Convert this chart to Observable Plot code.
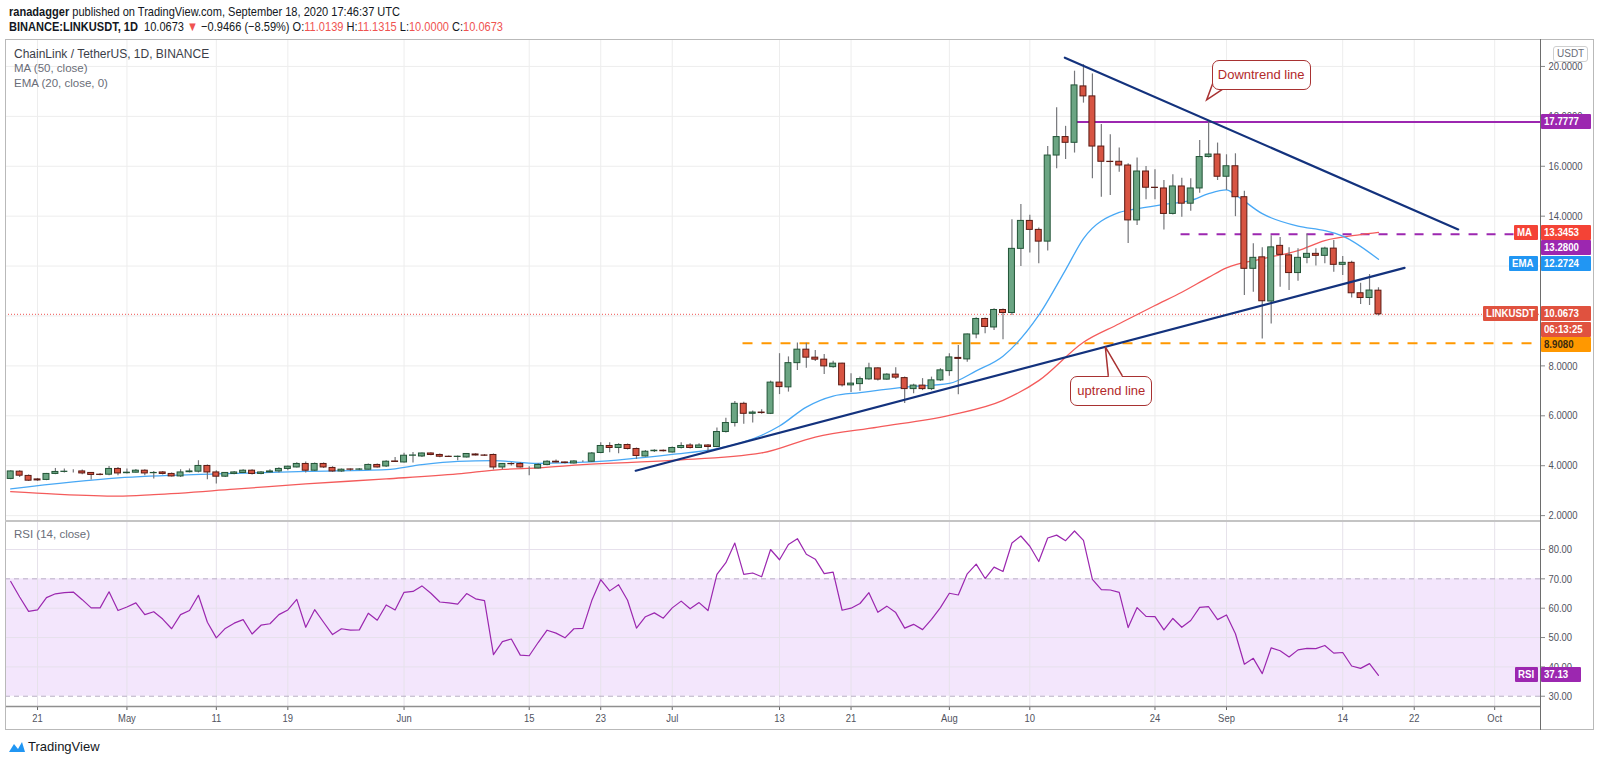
<!DOCTYPE html>
<html><head><meta charset="utf-8">
<script src="https://cdn.jsdelivr.net/npm/d3@7"></script>
<script src="https://cdn.jsdelivr.net/npm/@observablehq/plot@0.6"></script>
<style>
body{margin:0;background:#fff;}
#root{position:relative;width:1600px;height:763px;overflow:hidden;font-family:"Liberation Sans",Arial,sans-serif;color:#131722;}
.abs{position:absolute;white-space:nowrap;}
.narrow{transform:scaleX(0.85);transform-origin:0 50%;}
.tag{position:absolute;height:15px;line-height:15px;font-size:11.5px;font-weight:bold;color:#fff;padding:0 0 0 3px;box-sizing:border-box;border-radius:1px;white-space:nowrap;}
.tag span{display:inline-block;transform:scaleX(0.84);transform-origin:0 50%;}
.callout{position:absolute;background:#fff;border:1.5px solid #a83232;border-radius:7px;color:#b22a2a;font-size:13px;text-align:center;box-sizing:border-box;white-space:nowrap;}
</style></head><body><div id="root"></div>
<script>
// ---------- data ----------
const firstDay = "2020-04-18", lastDay = "2020-09-18";
const openP = [3.47,3.76,3.59,3.45,3.43,3.67,3.75,3.76,3.77,3.71,3.64,3.64,3.87,
 3.70,3.72,3.80,3.70,3.73,3.67,3.57,3.74,3.76,3.99,3.73,3.56,3.67,3.71,3.80,3.67,3.73,3.77,3.87,3.93,4.07,3.80,4.07,3.91,3.77,3.85,3.84,3.84,4.03,3.97,4.17,
 4.13,4.40,4.37,4.49,4.43,4.36,4.35,4.33,4.45,4.41,4.43,3.93,4.07,4.07,3.93,3.89,4.03,4.16,4.13,4.09,4.17,4.16,4.51,4.79,4.71,4.83,4.67,4.37,4.58,4.60,
 4.53,4.71,4.81,4.71,4.81,4.75,5.35,5.71,6.48,6.08,6.13,6.08,7.33,7.14,8.11,8.65,8.33,8.25,7.95,8.09,7.22,7.27,7.46,7.90,7.45,7.65,7.51,7.07,7.21,7.07,7.42,
 7.79,8.32,8.26,9.26,9.88,9.54,10.24,10.12,12.69,13.81,13.45,12.98,16.43,17.17,16.94,19.20,18.80,16.79,16.18,16.18,16.03,13.83,15.79,15.14,15.11,14.09,15.19,14.50,15.11,16.37,16.47,
 15.58,16.00,14.76,11.89,12.35,10.58,12.81,12.43,11.72,12.33,12.49,12.41,12.70,12.05,12.13,10.91,10.72,11.0139];
const highP = [3.80,3.80,3.63,3.49,3.69,3.89,3.87,3.84,3.83,3.73,3.69,3.97,3.93,
 3.87,3.85,3.84,3.77,3.77,3.71,3.84,3.87,4.20,4.03,3.80,3.73,3.77,3.84,3.84,3.77,3.84,3.92,3.99,4.12,4.15,4.11,4.11,3.96,3.87,3.87,3.89,4.07,4.07,4.20,4.33,
 4.50,4.53,4.51,4.52,4.47,4.39,4.39,4.49,4.48,4.45,4.47,4.09,4.12,4.13,3.96,4.09,4.20,4.23,4.15,4.20,4.20,4.53,4.92,4.92,4.88,4.87,4.71,4.61,4.64,4.63,
 4.75,4.92,4.88,4.88,4.85,5.51,5.90,6.57,6.54,6.19,6.24,7.39,8.49,8.36,8.92,8.91,8.62,8.46,8.19,8.11,7.69,7.55,8.11,7.93,7.69,7.93,7.55,7.26,7.49,7.55,7.89,
 8.49,8.82,9.28,9.93,9.92,10.29,10.28,13.86,14.47,14.04,13.53,16.79,18.34,17.60,19.81,20.07,19.70,17.67,17.26,16.73,16.10,16.33,15.99,15.86,15.43,15.66,15.52,15.50,17.03,17.77,16.93,
 16.46,16.50,15.00,12.89,12.73,13.22,13.15,12.73,12.69,13.29,12.69,12.75,13.02,12.38,12.19,11.31,11.66,11.1315];
const lowP = [3.44,3.53,3.37,3.37,3.40,3.64,3.71,3.71,3.64,3.43,3.60,3.60,3.60,
 3.67,3.71,3.60,3.47,3.63,3.55,3.53,3.71,3.71,3.44,3.27,3.53,3.64,3.69,3.63,3.64,3.71,3.71,3.80,3.91,3.71,3.77,3.89,3.73,3.73,3.77,3.80,3.83,3.91,3.93,4.13,
 4.11,4.11,4.33,4.40,4.32,4.33,4.20,4.31,4.39,4.37,3.83,3.84,3.99,3.91,3.60,3.87,4.00,4.11,4.07,4.07,4.13,4.13,4.48,4.52,4.48,4.63,4.25,4.35,4.53,4.55,
 4.51,4.67,4.67,4.69,4.56,4.72,5.31,5.55,5.66,5.71,6.06,6.05,6.85,6.95,7.82,7.91,8.18,7.65,7.91,7.15,6.93,6.98,7.42,7.39,7.42,7.45,6.49,6.88,7.01,7.01,7.38,
 7.58,6.84,8.15,9.09,9.29,9.42,9.05,10.02,11.98,12.52,12.09,12.60,15.90,16.27,16.53,18.53,15.50,14.76,14.83,15.76,12.90,13.63,14.66,14.66,13.45,14.05,13.96,14.20,14.92,16.33,15.43,
 15.03,13.98,10.82,10.95,9.08,9.68,11.15,11.02,11.39,12.09,12.00,12.09,11.75,11.62,10.72,10.46,10.42,10.00];
const closeP = [3.77,3.60,3.40,3.41,3.67,3.75,3.76,3.76,3.69,3.63,3.63,3.87,3.69,
 3.72,3.80,3.69,3.71,3.67,3.57,3.73,3.77,3.99,3.73,3.56,3.71,3.73,3.80,3.67,3.73,3.77,3.87,3.96,4.07,3.80,4.07,3.93,3.77,3.84,3.84,3.85,4.03,3.93,4.16,4.15,
 4.40,4.41,4.49,4.43,4.36,4.35,4.36,4.47,4.41,4.40,3.93,4.07,4.06,3.93,3.93,4.03,4.16,4.13,4.11,4.17,4.17,4.49,4.79,4.71,4.83,4.67,4.39,4.56,4.60,4.58,
 4.71,4.79,4.71,4.81,4.75,5.35,5.71,6.48,6.08,6.13,6.11,7.33,7.15,8.11,8.65,8.33,8.25,7.98,8.09,7.22,7.29,7.47,7.90,7.45,7.65,7.53,7.07,7.21,7.07,7.42,7.82,
 8.34,8.28,9.26,9.88,9.56,10.24,10.12,12.69,13.81,13.45,12.98,16.43,17.17,16.94,19.24,18.80,16.79,16.18,16.17,16.03,13.83,15.79,15.14,15.13,14.09,15.19,14.50,15.11,16.37,16.47,15.58,
 16.00,14.76,11.89,12.33,10.59,12.75,12.45,11.72,12.33,12.49,12.41,12.70,12.05,12.13,10.91,10.72,11.02,10.0673];
const rsiV = [69.1,63.8,58.9,59.4,63.6,64.9,65.3,65.5,62.9,60.1,60.1,65.6,59.2,
 60.4,61.8,57.8,58.8,56.3,53.0,57.8,59.2,64.4,55.2,49.9,53.1,54.9,56.1,51.2,54.2,54.7,57.8,59.4,63.0,53.5,59.5,55.2,51.0,53.0,52.5,52.6,58.3,55.9,61.1,59.4,
 65.4,65.7,67.6,65.1,62.1,61.8,61.4,65.0,63.2,62.6,44.2,48.6,49.5,44.0,43.8,48.3,52.5,51.5,49.9,53.0,53.1,62.6,69.7,65.9,68.0,62.7,53.2,57.1,58.4,56.6,
 60.1,62.4,59.8,61.9,59.2,71.5,75.5,82.2,71.5,72.0,70.7,80.0,76.5,81.7,83.7,78.4,76.7,71.8,72.3,59.3,60.0,61.6,65.3,58.6,60.7,58.5,53.2,54.5,52.7,56.2,60.2,
 65.1,64.5,71.7,75.0,70.1,74.0,72.5,82.2,84.6,81.1,75.9,83.9,84.9,83.0,86.3,83.1,69.8,66.3,66.2,65.4,53.4,60.2,57.2,57.1,52.6,56.5,53.5,55.8,60.3,60.5,56.1,
 57.7,51.3,40.9,42.9,37.7,46.5,45.5,43.4,45.8,46.3,46.2,47.3,44.7,44.9,40.3,39.5,41.1,37.13];
// indicator lines
const emaDates = ["2020-04-18","2020-04-30","2020-05-11","2020-05-21","2020-05-30","2020-06-03","2020-06-07","2020-06-11","2020-06-16","2020-06-22","2020-07-01","2020-07-06","2020-07-11","2020-07-13","2020-07-16","2020-07-19","2020-07-22","2020-07-27","2020-08-01","2020-08-04","2020-08-07","2020-08-11","2020-08-14","2020-08-16","2020-08-20","2020-08-22","2020-08-25","2020-08-28","2020-08-30","2020-09-01","2020-09-02","2020-09-05","2020-09-09","2020-09-12","2020-09-14","2020-09-18"];
const emaVals = [3.07,3.51,3.67,3.77,3.84,4.04,4.17,4.20,4.09,4.15,4.45,4.68,5.22,5.59,6.35,6.79,6.93,7.15,7.30,7.80,8.39,10.03,11.85,13.10,14.15,14.30,14.47,14.63,14.90,15.05,14.85,14.10,13.60,13.42,13.20,12.27];
const maDates = ["2020-04-18","2020-04-23","2020-04-30","2020-05-04","2020-05-13","2020-05-21","2020-05-30","2020-06-07","2020-06-12","2020-06-16","2020-06-21","2020-07-01","2020-07-11","2020-07-17","2020-07-24","2020-08-01","2020-08-07","2020-08-11","2020-08-16","2020-08-20","2020-08-24","2020-08-27","2020-08-30","2020-09-01","2020-09-05","2020-09-09","2020-09-12","2020-09-16","2020-09-18"];
const maVals = [2.96,2.86,2.78,2.84,3.06,3.27,3.47,3.67,3.85,3.91,4.04,4.21,4.51,5.15,5.55,6.02,6.62,7.41,8.95,9.69,10.42,10.95,11.55,11.93,12.29,12.62,13.02,13.26,13.35];
// drawn trend lines (start/end date, price)
const downTrend = [["2020-08-13T22:00Z",20.35],["2020-09-26T22:00Z",13.47]];
const upTrend = [["2020-06-26T22:00Z",3.80],["2020-09-20T22:00Z",11.93]];
const resistance = {from:"2020-08-15T07:00Z", price:17.7777};
const midLevel = {from:"2020-08-26T22:00Z", price:13.28};
const support = {from:"2020-07-08T22:00Z", price:8.908};
const lastPrice = 10.0673, maLast = 13.3453, emaLast = 12.2724, rsiLast = 37.13;
// axes
const xTickDates = ["2020-04-21","2020-05-01","2020-05-11","2020-05-19","2020-06-01","2020-06-15","2020-06-23","2020-07-01","2020-07-13","2020-07-21","2020-08-01","2020-08-10","2020-08-24","2020-09-01","2020-09-14","2020-09-22","2020-10-01"];
const xTickLabels = ["21","May","11","19","Jun","15","23","Jul","13","21","Aug","10","24","Sep","14","22","Oct"];
const priceGrid = [2,4,6,8,10,12,14,16,18,20];
const priceLabels = [2,4,6,8,14,16,18,20];
const rsiGrid = [40,50,60,80];
const rsiLabels = [30,40,50,60,70,80];
const xDomain = [new Date("2020-04-17T10:00Z"), new Date("2020-10-06T03:00Z")];

// ---------- build ----------
const root = document.getElementById("root");
const dates = d3.utcDay.range(new Date(firstDay+"T00:00Z"), d3.utcDay.offset(new Date(lastDay+"T00:00Z"),1));
const candles = dates.map((d,i)=>({date:d,open:openP[i],high:highP[i],low:lowP[i],close:closeP[i],rsi:rsiV[i]}));
const up = candles.filter(d=>d.close>=d.open), down = candles.filter(d=>d.close<d.open);
const half = 8*3600e3;
const ema = emaDates.map((d,i)=>({date:new Date(d+"T00:00Z"),v:emaVals[i]}));
const ma = maDates.map((d,i)=>({date:new Date(d+"T00:00Z"),v:maVals[i]}));
const xTicks = xTickDates.map(d=>new Date(d+"T00:00Z"));
const labelOf = new Map(xTicks.map((d,i)=>[+d,xTickLabels[i]]));
const tl = a=>a.map(([d,v])=>({date:new Date(d),v}));
const font = '"Liberation Sans",Arial,sans-serif';

function add(el, css){Object.assign(el.style, css); root.appendChild(el); return el;}
function div(cls, text, css){const e=document.createElement("div"); e.className=cls; e.textContent=text; return add(e,css);}
function narrowTexts(svg, f){ svg.querySelectorAll("text").forEach(t=>{ const w=t.getComputedTextLength(); if(w>0){ t.setAttribute("textLength", (w*f).toFixed(1)); t.setAttribute("lengthAdjust","spacingAndGlyphs"); } }); }

const PTOP = 39, PH = 482, FRAME_BOTTOM = 730;
const price = Plot.plot({
  width:1600, height:PH, marginLeft:5, marginRight:60, marginTop:0, marginBottom:0,
  style:{fontFamily:font, fontSize:"11.5px", color:"#50535e", background:"transparent", overflow:"visible"},
  x:{type:"utc", domain:xDomain, axis:null},
  y:{domain:[1.764,21.08], axis:null},
  marks:[
    Plot.ruleX(xTicks, {stroke:"#ededed"}),
    Plot.ruleY(priceGrid, {stroke:"#ededed"}),
    Plot.axisY(priceLabels, {anchor:"right", tickSize:4, tickPadding:4, tickFormat:d3.format(".4f"), stroke:"#888"}),
    Plot.ruleY([lastPrice], {stroke:"#ef5350", strokeDasharray:"1,2", strokeWidth:1}),
    Plot.ruleY([support], {y:"price", x1:d=>new Date(d.from), x2:()=>xDomain[1], stroke:"#ff9800", strokeWidth:2, strokeDasharray:"10,9"}),
    Plot.ruleY([midLevel], {y:"price", x1:d=>new Date(d.from), x2:()=>xDomain[1], stroke:"#9c27b0", strokeWidth:2, strokeDasharray:"9,9"}),
    Plot.ruleY([resistance], {y:"price", x1:d=>new Date(d.from), x2:()=>xDomain[1], stroke:"#9c27b0", strokeWidth:2}),
    Plot.line(ma, {x:"date", y:"v", stroke:"#f45b5b", strokeWidth:1.3, curve:"monotone-x"}),
    Plot.line(ema, {x:"date", y:"v", stroke:"#48a8f5", strokeWidth:1.3, curve:"monotone-x"}),
    Plot.ruleX(candles, {x:"date", y1:"low", y2:"high", stroke:"#76777b", strokeWidth:1.2}),
    Plot.rect(up, {x1:d=>new Date(+d.date-half), x2:d=>new Date(+d.date+half), y1:"open", y2:"close", fill:"#6ba583", stroke:"#225437", strokeWidth:1}),
    Plot.rect(down, {x1:d=>new Date(+d.date-half), x2:d=>new Date(+d.date+half), y1:"open", y2:"close", fill:"#d75442", stroke:"#5b1a13", strokeWidth:1}),
    Plot.line(tl(downTrend), {x:"date", y:"v", stroke:"#13327d", strokeWidth:2.2}),
    Plot.line(tl(upTrend), {x:"date", y:"v", stroke:"#13327d", strokeWidth:2.2})
  ]
});
add(price, {position:"absolute", left:"0px", top:PTOP+"px"});
narrowTexts(price, 0.82);

const RTOP = 521, RH = FRAME_BOTTOM - RTOP;
const rsiPlot = Plot.plot({
  width:1600, height:RH, marginLeft:5, marginRight:60, marginTop:0, marginBottom:24,
  style:{fontFamily:font, fontSize:"11.5px", color:"#50535e", background:"transparent", overflow:"visible"},
  x:{type:"utc", domain:xDomain, axis:null},
  y:{domain:[26.5,89.54], axis:null},
  marks:[
    Plot.rect([{a:30,b:70}], {x1:()=>xDomain[0], x2:()=>xDomain[1], y1:"a", y2:"b", fill:"#f3e6fc"}),
    Plot.ruleX(xTicks, {stroke:"#e6e2ea"}),
    Plot.ruleY(rsiGrid, {stroke:"#e6e0ec"}),
    Plot.ruleY([30,70], {stroke:"#b8aec4", strokeDasharray:"5,4"}),
    Plot.axisY(rsiLabels, {anchor:"right", tickSize:4, tickPadding:4, tickFormat:d3.format(".2f"), stroke:"#888"}),
    Plot.axisX(xTicks, {anchor:"bottom", tickSize:4, tickPadding:3, tickFormat:d=>labelOf.get(+d), stroke:"#666"}),
    Plot.ruleY([26.5], {stroke:"#8f8f8f", strokeWidth:1.5}),
    Plot.line(candles, {x:"date", y:"rsi", stroke:"#9b27af", strokeWidth:1.2})
  ]
});
add(rsiPlot, {position:"absolute", left:"0px", top:RTOP+"px"});
narrowTexts(rsiPlot, 0.82);

const ys = v => PTOP + price.scale("y").apply(v);
const xs = d => price.scale("x").apply(d);
const yr = v => RTOP + rsiPlot.scale("y").apply(v);

// frame, separators, axis line
add(document.createElement("div"), {position:"absolute", left:"5px", top:PTOP+"px", width:"1589px", height:(FRAME_BOTTOM-PTOP)+"px", border:"1px solid #b9b9b9", boxSizing:"border-box"});
add(document.createElement("div"), {position:"absolute", left:"5px", top:(RTOP-1)+"px", width:"1535px", height:"2px", background:"#c4c4c4"});
add(document.createElement("div"), {position:"absolute", left:"1540px", top:PTOP+"px", width:"1px", height:(FRAME_BOTTOM-PTOP)+"px", background:"#6d6d6d"});

// header
const h1 = div("abs narrow","",{left:"9px", top:"4px", fontSize:"13px", color:"#131722"});
h1.innerHTML = '<span style="font-weight:bold">ranadagger</span> published on TradingView.com, September 18, 2020 17:46:37 UTC';
const h2 = div("abs narrow","",{left:"9px", top:"19px", fontSize:"13px", color:"#131722"});
h2.innerHTML = '<b>BINANCE:LINKUSDT, 1D</b>&nbsp; 10.0673 <span style="color:#ef5350">▼</span> −0.9466 (−8.59%) O:<span style="color:#ef5350">11.0139</span> H:<span style="color:#ef5350">11.1315</span> L:<span style="color:#ef5350">10.0000</span> C:<span style="color:#ef5350">10.0673</span>';
div("abs","ChainLink / TetherUS, 1D, BINANCE",{left:"14px", top:"47px", fontSize:"12px", color:"#3b3e48"});
div("abs","MA (50, close)",{left:"14px", top:"62px", fontSize:"11.5px", color:"#6a6d78"});
div("abs","EMA (20, close, 0)",{left:"14px", top:"77px", fontSize:"11.5px", color:"#6a6d78"});
div("abs","RSI (14, close)",{left:"14px", top:"528px", fontSize:"11.5px", color:"#6a6d78"});
div("abs","USDT",{left:"1553px", top:"46px", fontSize:"10px", color:"#6a6d78", border:"1px solid #cfcfcf", borderRadius:"3px", padding:"0 3px", lineHeight:"14px"});

// price-scale tags (stacked so they do not overlap)
const tags = [
  {v:resistance.price, text:"17.7777", bg:"#9c27b0"},
  {v:maLast, text:"13.3453", bg:"#f44336", pre:"MA", preBg:"#f44336", preW:24},
  {v:midLevel.price, text:"13.2800", bg:"#9c27b0"},
  {v:emaLast, text:"12.2724", bg:"#2196f3", pre:"EMA", preBg:"#2196f3", preW:29},
  {v:lastPrice, text:"10.0673", bg:"#e0523f", pre:"LINKUSDT", preBg:"#e0523f", preW:55},
  {v:lastPrice, text:"06:13:25", bg:"#e0523f"},
  {v:support.price, text:"8.9080", bg:"#ff9800", color:"#3a2a10"}
];
function tagDiv(text, left, y, w, bg, color){
  const e = document.createElement("div"); e.className="tag";
  const s = document.createElement("span"); s.textContent = text; e.appendChild(s);
  return add(e, {left:left+"px", top:(y-7.5)+"px", width:w+"px", background:bg, color:color||"#fff"});
}
let prev = -1e9;
for (const t of tags){
  let y = ys(t.v);
  if (y < prev + 15.5) y = prev + 15.5;
  prev = y;
  tagDiv(t.text, 1541, y, 50, t.bg, t.color);
  if (t.pre) tagDiv(t.pre, 1538-t.preW, y, t.preW, t.preBg);
}
const ry = yr(rsiLast);
tagDiv("37.13", 1541, ry, 40, "#9c27b0");
tagDiv("RSI", 1515, ry, 23, "#9c27b0");

// callouts
function callout(text, tipDate, tipPrice, box, base){
  const tx = xs(new Date(tipDate)), ty = ys(tipPrice);
  const bx = tx + box.dx, by = ty + box.dy;
  const svg = d3.create("svg").attr("width",1600).attr("height",763).style("position","absolute").style("left","0").style("top","0").style("pointer-events","none");
  svg.append("path").attr("d",`M${tx+base[0][0]},${ty+base[0][1]} L${tx},${ty} L${tx+base[1][0]},${ty+base[1][1]}`).attr("fill","#fff").attr("stroke","#a83232").attr("stroke-width",1.5);
  root.appendChild(svg.node());
  div("callout", text, {left:bx+"px", top:by+"px", width:box.w+"px", height:box.h+"px", lineHeight:(box.h-3)+"px"});
  const svg2 = d3.create("svg").attr("width",1600).attr("height",763).style("position","absolute").style("left","0").style("top","0").style("pointer-events","none");
  svg2.append("path").attr("d",`M${tx+base[0][0]+0.5},${ty+base[0][1]+ (base[0][1]<0?-1.5:1.5)} L${tx+base[1][0]-0.5},${ty+base[1][1]+(base[1][1]<0?-1.5:1.5)}`).attr("stroke","#fff").attr("stroke-width",2.5);
  root.appendChild(svg2.node());
}
callout("Downtrend line", "2020-08-29T20:00Z", 18.64, {dx:5, dy:-40, w:99, h:30}, [[7,-19],[18,-12]]);
callout("uptrend line", "2020-08-18T12:00Z", 8.74, {dx:-35, dy:29, w:82, h:30}, [[3,29],[17,29]]);

// footer logo
const logo = d3.create("svg").attr("width",18).attr("height",14).style("position","absolute").style("left","8px").style("top","740px");
logo.append("path").attr("d","M1,12 L6,4 L10,9 L14,2 L17,12 Z").attr("fill","#2196f3");
root.appendChild(logo.node());
div("abs","TradingView",{left:"28px", top:"739px", fontSize:"13px", color:"#131722"});
</script></body></html>
